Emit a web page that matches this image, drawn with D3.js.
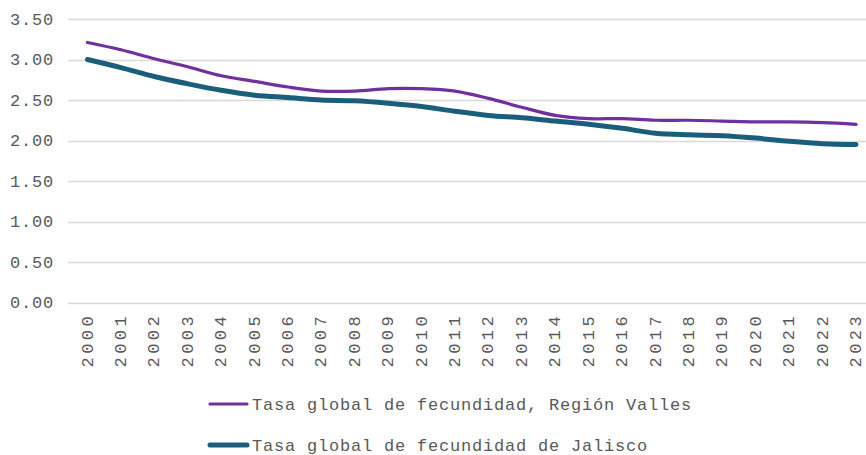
<!DOCTYPE html>
<html>
<head>
<meta charset="utf-8">
<script src="https://cdn.jsdelivr.net/npm/d3@7"></script>
<style>
	body { margin: 0; background: #fff; }
	text { font-family: "Liberation Mono", monospace; fill: #595959; }
</style>
</head>
<body>
<div id="chart"></div>
<script>
// data
var years = ["2000","2001","2002","2003","2004","2005","2006","2007","2008","2009","2010","2011",
	"2012","2013","2014","2015","2016","2017","2018","2019","2020","2021","2022","2023"];
var valles = [3.21,3.12,3.01,2.91,2.80,2.73,2.66,2.61,2.61,2.64,2.64,2.61,
	2.52,2.41,2.31,2.27,2.27,2.25,2.25,2.24,2.23,2.23,2.22,2.20];
var jalisco = [3.00,2.90,2.79,2.70,2.62,2.56,2.53,2.50,2.49,2.46,2.42,2.36,
	2.31,2.28,2.24,2.20,2.15,2.09,2.07,2.06,2.03,1.99,1.96,1.95];
var yTicks = [0, 0.5, 1, 1.5, 2, 2.5, 3, 3.5];
var seriesNames = ["Tasa global de fecundidad, Región Valles", "Tasa global de fecundidad de Jalisco"];

var params = {
	width: 866,
	height: 455,
	gridLeft: 68,
	gridRight: 866,
	xLeft: 87.5,
	xRight: 856,
	yTop: 19,
	yBottom: 302.5,
	colors: ["#7030a0", "#1b5e7c"],
	strokes: [3.2, 5]
};

var svg = d3.select('#chart')
	.append('svg')
		.attr('width', params.width)
		.attr('height', params.height);

var x = d3.scalePoint()
	.domain(years)
	.range([params.xLeft, params.xRight]);

var y = d3.scaleLinear()
	.domain([0, 3.5])
	.range([params.yBottom, params.yTop]);

// gridlines
svg.append('g').selectAll('line')
	.data(yTicks)
	.enter()
	.append('line')
		.attr('x1', params.gridLeft)
		.attr('x2', params.gridRight)
		.attr('y1', function(d){ return Math.round(y(d)) + 0.5; })
		.attr('y2', function(d){ return Math.round(y(d)) + 0.5; })
		.style('stroke', '#d9d9d9')
		.style('stroke-width', 1.3);

// y labels
svg.append('g').selectAll('text')
	.data(yTicks)
	.enter()
	.append('text')
		.attr('x', 54)
		.attr('y', function(d){ return y(d); })
		.attr('dy', '0.35em')
		.attr('text-anchor', 'end')
		.style('font-size', '17px')
		.style('letter-spacing', '0.8px')
		.text(function(d){ return d3.format('.2f')(d); });

// x labels, rotated
svg.append('g').selectAll('text')
	.data(years)
	.enter()
	.append('text')
		.attr('transform', function(d){ return 'translate(' + (x(d) + 5) + ',' + 313 + ') rotate(-90)'; })
		.attr('text-anchor', 'end')
		.style('font-size', '17px')
		.style('letter-spacing', '3.4px')
		.text(function(d){ return d; });

// lines
var line = d3.line()
	.x(function(d, i){ return x(years[i]); })
	.y(function(d){ return y(d); })
	.curve(d3.curveCatmullRom);

[valles, jalisco].forEach(function(s, i){
	svg.append('path')
		.datum(s)
		.attr('d', line)
		.style('fill', 'none')
		.style('stroke', params.colors[i])
		.style('stroke-width', params.strokes[i])
		.style('stroke-linecap', 'round')
		.style('stroke-linejoin', 'round');
});

// legend
var legend = svg.append('g').selectAll('g')
	.data(seriesNames)
	.enter()
	.append('g')
		.attr('transform', function(d, i){ return 'translate(0,' + (404 + i * 41) + ')'; });

legend.append('line')
	.attr('x1', 210)
	.attr('x2', 247)
	.style('stroke', function(d, i){ return params.colors[i]; })
	.style('stroke-width', function(d, i){ return params.strokes[i]; })
	.style('stroke-linecap', 'round');

legend.append('text')
	.attr('x', 252)
	.attr('y', 0)
	.attr('dy', '0.35em')
	.style('font-size', '17px')
	.style('letter-spacing', '0.8px')
	.text(function(d){ return d; });
</script>
</body>
</html>
